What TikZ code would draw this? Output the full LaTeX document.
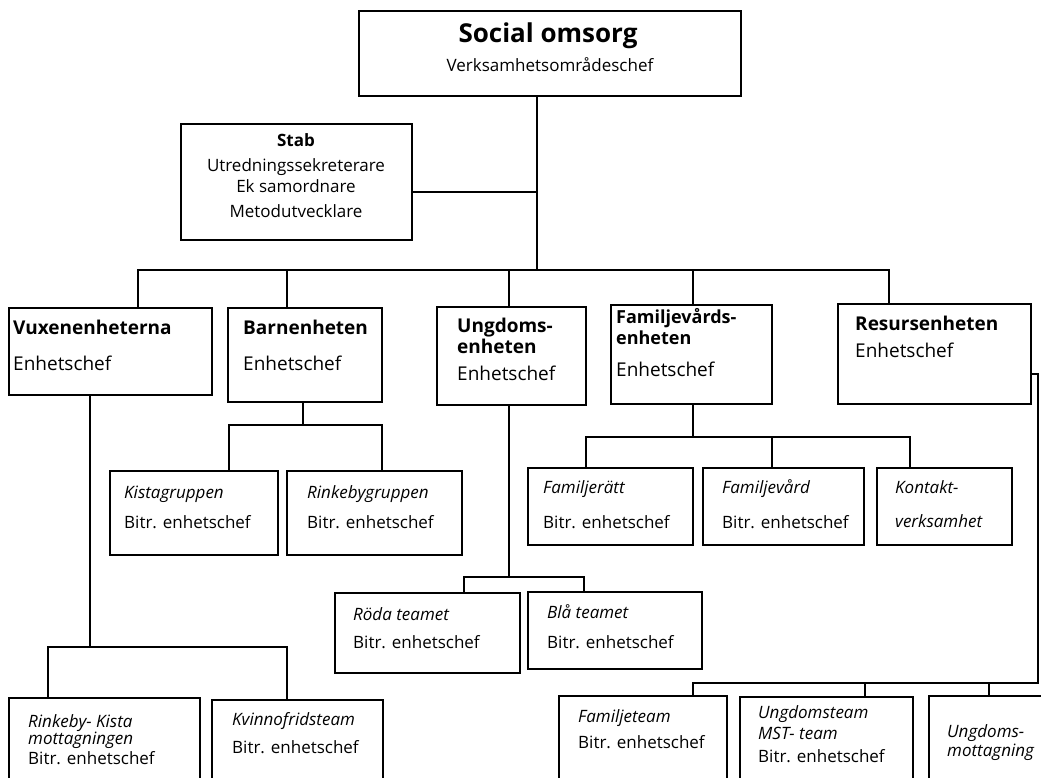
\documentclass[tikz,border=0pt]{standalone}
\usepackage{fontspec}
\setmainfont{Open Sans}
\newcommand\ftitle{\fontsize{26}{30}\selectfont\bfseries}
\newcommand\fsub{\fontsize{17}{20}\selectfont}
\newcommand\fhd{\fontsize{19}{22}\selectfont\bfseries}
\newcommand\fhdn{\fontsize{18}{22}\selectfont\bfseries}
\newcommand\fbody{\fontsize{19}{22}\selectfont}
\newcommand\fital{\fontsize{17}{20}\selectfont\itshape}
\newcommand\fbitr{\fontsize{17}{20}\selectfont}
\tikzset{
  box/.style={draw, line width=1.8pt, anchor=north west, inner sep=0pt, outer sep=0pt},
  lbl/.style={anchor=base west, inner sep=0pt},
  clbl/.style={anchor=base, inner sep=0pt},
  conn/.style={line width=1.8pt},
}
\newcommand\obox[5]{\node[box, minimum width=#4pt, minimum height=#5pt] (#1) at (#2,#3) {};}
\newcommand\olbl[5]{\node[lbl, font=#4] (#1) at (#2,#3) {#5};}
\newcommand\oclbl[5]{\node[clbl, font=#4] (#1) at (#2,#3) {#5};}
\begin{document}
\begin{tikzpicture}[x=1pt,y=-1pt]
\fill[white] (0,0) rectangle (1041,778);
\useasboundingbox (0,0) rectangle (1041,778);

% boxes
\obox{top}{359}{11}{382}{85}
\obox{stab}{181}{124}{231}{116}
\obox{vux}{9}{308}{203}{87}
\obox{barn}{228}{308}{154}{94}
\obox{ungd}{437}{307}{149}{98}
\obox{fam}{611}{305}{161}{99}
\obox{res}{838}{304}{193}{100}
\obox{kista}{110}{471}{168}{84}
\obox{rinke}{287}{471}{175}{84}
\obox{fratt}{528}{468}{165}{77}
\obox{fvard}{703}{468}{161}{77}
\obox{kontakt}{877}{468}{135}{77}
\obox{roda}{335}{593}{185}{80}
\obox{bla}{528}{592}{174}{77}
\obox{rkm}{9}{698}{191}{100}
\obox{kvinno}{212}{700}{171}{100}
\obox{fteam}{559}{696}{168}{100}
\obox{uteam}{740}{697}{173}{100}
\obox{umott}{929}{696}{150}{100}

% texts
\oclbl{top-a}{548}{43}{\ftitle}{Social omsorg}
\oclbl{top-b}{550}{72}{\fsub}{Verksamhetsområdeschef}
\oclbl{stab-a}{296}{147}{\fsub\bfseries}{Stab}
\oclbl{stab-b}{296}{172}{\fsub}{Utredningssekreterare}
\oclbl{stab-c}{296}{193}{\fsub}{Ek samordnare}
\oclbl{stab-d}{296}{218}{\fsub}{Metodutvecklare}
\olbl{vux-a}{13}{334}{\fhd}{Vuxenenheterna}
\olbl{vux-b}{13}{370}{\fbody}{Enhetschef}
\olbl{barn-a}{243}{334}{\fhd}{Barnenheten}
\olbl{barn-b}{243}{370}{\fbody}{Enhetschef}
\olbl{ungd-a}{457}{332}{\fhd}{Ungdoms-}
\olbl{ungd-b}{457}{353}{\fhd}{enheten}
\olbl{ungd-c}{457}{380}{\fbody}{Enhetschef}
\olbl{fam-a}{616}{323}{\fhdn}{Familjevårds-}
\olbl{fam-b}{616}{344}{\fhdn}{enheten}
\olbl{fam-c}{616}{376}{\fbody}{Enhetschef}
\olbl{res-a}{855}{330}{\fhd}{Resursenheten}
\olbl{res-b}{855}{357}{\fbody}{Enhetschef}
\olbl{kista-a}{124}{498}{\fital}{Kistagruppen}
\olbl{kista-b}{124}{528}{\fbitr}{Bitr. enhetschef}
\olbl{rinke-a}{307}{498}{\fital}{Rinkebygruppen}
\olbl{rinke-b}{307}{528}{\fbitr}{Bitr. enhetschef}
\olbl{fratt-a}{543}{493}{\fital}{Familjerätt}
\olbl{fratt-b}{543}{528}{\fbitr}{Bitr. enhetschef}
\olbl{fvard-a}{722}{493}{\fital}{Familjevård}
\olbl{fvard-b}{722}{528}{\fbitr}{Bitr. enhetschef}
\olbl{kontakt-a}{895}{493}{\fital}{Kontakt-}
\olbl{kontakt-b}{895}{527}{\fital}{verksamhet}
\olbl{roda-a}{353}{620}{\fital}{Röda teamet}
\olbl{roda-b}{353}{648}{\fbitr}{Bitr. enhetschef}
\olbl{bla-a}{547}{618}{\fital}{Blå teamet}
\olbl{bla-b}{547}{648}{\fbitr}{Bitr. enhetschef}
\olbl{rkm-a}{28}{727}{\fital}{Rinkeby- Kista}
\olbl{rkm-b}{28}{744}{\fital}{mottagningen}
\olbl{rkm-c}{28}{764}{\fbitr}{Bitr. enhetschef}
\olbl{kvinno-a}{232}{725}{\fital}{Kvinnofridsteam}
\olbl{kvinno-b}{232}{753}{\fbitr}{Bitr. enhetschef}
\olbl{fteam-a}{578}{722}{\fital}{Familjeteam}
\olbl{fteam-b}{578}{748}{\fbitr}{Bitr. enhetschef}
\olbl{uteam-a}{758}{718}{\fital}{Ungdomsteam}
\olbl{uteam-b}{758}{739}{\fital}{MST- team}
\olbl{uteam-c}{758}{762}{\fbitr}{Bitr. enhetschef}
\olbl{umott-a}{947}{737}{\fital}{Ungdoms-}
\olbl{umott-b}{947}{756}{\fital}{mottagning}

% connector coordinates
\coordinate (s2) at (537,270);
\coordinate (b1) at (138,270);
\coordinate (b2) at (287,270);
\coordinate (b3) at (509,270);
\coordinate (b4) at (693,270);
\coordinate (b5) at (889,270);
\coordinate (bb) at (303,425);
\coordinate (bbl) at (229,425);
\coordinate (bbr) at (382,425);
\coordinate (vv) at (90,647);
\coordinate (vvl) at (48,647);
\coordinate (vvr) at (287,647);
\coordinate (uu) at (509,577);
\coordinate (uul) at (464,577);
\coordinate (uur) at (584,577);
\coordinate (ff) at (693,437);
\coordinate (ffl) at (586,437);
\coordinate (ffm) at (772,437);
\coordinate (ffr) at (910,437);
\coordinate (rr) at (1038,683);
\coordinate (rrl) at (693,683);
\coordinate (rrm) at (865,683);
\coordinate (rrr) at (989,683);

% connectors
\draw[conn] (top.south -| s2) -- (s2);
\draw[conn] ([yshift=-10pt]stab.east) -- ([yshift=-10pt]stab.east -| s2);
\draw[conn] (b1 |- vux.north) -- (b1) -- (b5) -- (b5 |- res.north);
\draw[conn] (b2) -- (b2 |- barn.north);
\draw[conn] (b3) -- (b3 |- ungd.north);
\draw[conn] (b4) -- (b4 |- fam.north);

\draw[conn] (barn.south -| bb) -- (bb);
\draw[conn] (bbl |- kista.north) -- (bbl) -- (bbr) -- (bbr |- rinke.north);

\draw[conn] (vux.south -| vv) -- (vv);
\draw[conn] (vvl |- rkm.north) -- (vvl) -- (vvr) -- (vvr |- kvinno.north);

\draw[conn] (ungd.south -| uu) -- (uu);
\draw[conn] (uul |- roda.north) -- (uul) -- (uur) -- (uur |- bla.north);

\draw[conn] (fam.south -| ff) -- (ff);
\draw[conn] (ffl |- fratt.north) -- (ffl) -- (ffr) -- (ffr |- kontakt.north);
\draw[conn] (ffm) -- (ffm |- fvard.north);

\draw[conn] ([yshift=-20pt]res.east) -| (rr) -- (rrl) -- (rrl |- fteam.north);
\draw[conn] (rrm) -- (rrm |- uteam.north);
\draw[conn] (rrr) -- (rrr |- umott.north);
\end{tikzpicture}
\end{document}
